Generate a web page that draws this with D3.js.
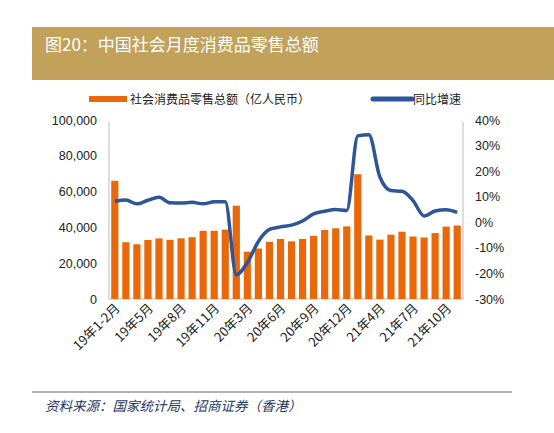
<!DOCTYPE html>
<html><head><meta charset="utf-8">
<script src="https://cdn.jsdelivr.net/npm/d3@7"></script>
<style>body{margin:0;background:#fff;font-family:"Liberation Sans",Arial,sans-serif}</style>
</head><body><svg id="c" width="554" height="433"></svg>
<script>
const categories = ["19年1-2月","19年3月","19年4月","19年5月","19年6月","19年7月","19年8月","19年9月","19年10月","19年11月","19年12月",
"20年1-2月","20年3月","20年4月","20年5月","20年6月","20年7月","20年8月","20年9月","20年10月","20年11月","20年12月",
"21年1-2月","21年3月","21年4月","21年5月","21年6月","21年7月","21年8月","21年9月","21年10月","21年11月"];
const retailSales = [66064,31726,30586,32956,33878,33073,33896,34495,38104,38094,38777,
52130,26450,28178,31973,33526,32203,33571,35295,38576,39514,40566,
69737,35484,33153,35945,37586,34925,34395,36833,40454,41043];
const yoyGrowth = [8.2,8.7,7.2,8.6,9.8,7.6,7.5,7.8,7.2,8.0,8.0,
-20.5,-15.8,-7.5,-2.8,-1.8,-1.1,0.5,3.3,4.3,5.0,4.6,
33.8,34.2,17.7,12.4,12.1,8.5,2.5,4.4,4.9,3.9];
const leftTicks = [0,20000,40000,60000,80000,100000];
const rightTicks = [-30,-20,-10,0,10,20,30,40];
const labelIdx = [0,3,6,9,12,15,18,21,24,27,30];

const svg = d3.select("#c");
const L=109,R=463,T=120,B=299;
svg.append("rect").attr("x",32).attr("y",27).attr("width",522).attr("height",53).attr("fill","#C2A25A");
svg.append("text").attr("x",45).attr("y",51).attr("fill","#fff").attr("font-size",17)
 .attr("font-family","Noto Sans CJK SC").text("图20：中国社会月度消费品零售总额");

const x=d3.scaleBand().domain(categories).range([L,R]).paddingInner(0.35).paddingOuter(0.2);
const yL=d3.scaleLinear().domain([0,100000]).range([B,T]);
const yR=d3.scaleLinear().domain([-30,40]).range([B,T]);

svg.append("path").attr("d",`M${L},${T+2}V${B}H${R}V${T+2}`).attr("fill","none").attr("stroke","#bbb");
svg.selectAll(".bar").data(retailSales).join("rect")
 .attr("x",(d,i)=>x(categories[i])).attr("width",x.bandwidth())
 .attr("y",d=>yL(d)).attr("height",d=>B-yL(d)).attr("fill","#E8680A");
svg.append("path").datum(yoyGrowth).attr("fill","none").attr("stroke","#2F5597").attr("stroke-width",3.5)
 .attr("stroke-linejoin","round")
 .attr("d",d3.line().x((d,i)=>x(categories[i])+x.bandwidth()/2).y(d=>yR(d)).curve(d3.curveMonotoneX));

const fmt=d3.format(",");
const gl=svg.append("g").attr("transform",`translate(${L},0)`)
 .call(d3.axisLeft(yL).tickValues(leftTicks).tickFormat(fmt).tickSize(0).tickPadding(12));
const gr=svg.append("g").attr("transform",`translate(${R},0)`)
 .call(d3.axisRight(yR).tickValues(rightTicks).tickFormat(d=>d+"%").tickSize(0).tickPadding(12));
[gl,gr].forEach(g=>{g.select(".domain").remove();g.selectAll("text").attr("font-size",12.5).attr("fill","#222").attr("font-family","Liberation Sans");});

const gx=svg.append("g").attr("transform",`translate(0,${B})`)
 .call(d3.axisBottom(x).tickValues(labelIdx.map(i=>categories[i])).tickSize(0).tickPadding(0));
gx.select(".domain").remove();
gx.selectAll("text").attr("font-size",13).attr("fill","#222").attr("font-family","Noto Sans CJK SC")
 .attr("text-anchor","end").attr("dy",0).attr("transform","translate(6,10) rotate(-45)");

const lg=svg.append("g");
lg.append("rect").attr("x",89).attr("y",96).attr("width",38).attr("height",6).attr("fill","#E8680A");
lg.append("text").attr("x",130).attr("y",104).attr("font-size",12).attr("font-family","Noto Sans CJK SC").attr("fill","#222").text("社会消费品零售总额（亿人民币）");
lg.append("line").attr("x1",373).attr("x2",412).attr("y1",99).attr("y2",99).attr("stroke","#2F5597").attr("stroke-width",5).attr("stroke-linecap","round");
lg.append("text").attr("x",413).attr("y",104).attr("font-size",12).attr("font-family","Noto Sans CJK SC").attr("fill","#222").text("同比增速");

svg.append("line").attr("x1",32).attr("x2",512).attr("y1",392).attr("y2",392).attr("stroke","#666").attr("stroke-width",1.2);
svg.append("text").attr("x",45).attr("y",411).attr("font-size",13.5).attr("font-style","italic").attr("fill","#1F3864")
 .attr("font-family","Noto Sans CJK SC").text("资料来源：国家统计局、招商证券（香港）");
</script></body></html>
